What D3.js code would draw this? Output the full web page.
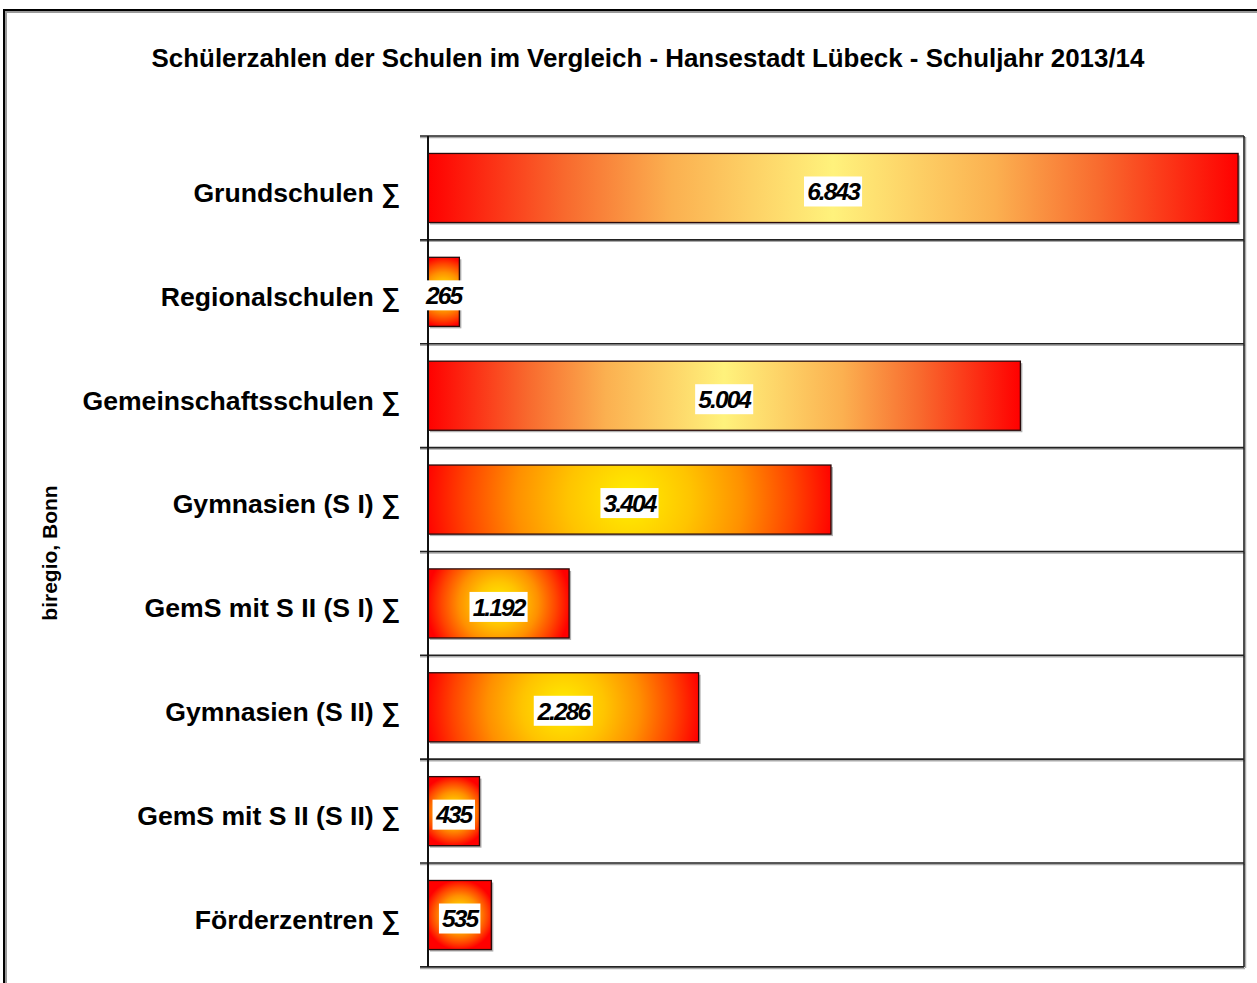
<!DOCTYPE html>
<html>
<head>
<meta charset="utf-8">
<script src="https://cdn.jsdelivr.net/npm/d3@7"></script>
<style>
  body { margin: 0; background: #fff; }
  svg { display: block; font-family: "Liberation Sans", Arial, sans-serif; }
</style>
</head>
<body>
<div class="main"></div>
<script>
// school types, top to bottom
const categories = [
    "Grundschulen ∑",
    "Regionalschulen ∑",
    "Gemeinschaftsschulen ∑",
    "Gymnasien (S I) ∑",
    "GemS mit S II (S I) ∑",
    "Gymnasien (S II) ∑",
    "GemS mit S II (S II) ∑",
    "Förderzentren ∑"
];
const pupils = [6843, 265, 5004, 3404, 1192, 2286, 435, 535];
// which fill each bar uses (excel had two kinds)
const fillKind = ["linear", "radial", "linear", "radial", "radial", "radial", "radial", "radial"];

const title = "Schülerzahlen der Schulen im Vergleich - Hansestadt Lübeck - Schuljahr 2013/14";
const sideNote = "biregio, Bonn";

let width = 1257;
let height = 983;
let plot = { left: 428, right: 1244, top: 136, bottom: 967 };

const de = d3.formatLocale({ decimal: ",", thousands: ".", grouping: [3], currency: ["", " €"] });
const fmt = de.format(",d");

let svg = d3.select(".main").append("svg")
    .attr("width", width)
    .attr("height", height);

let defs = svg.append("defs");

// horizontal red - pale yellow - red
let lin = defs.append("linearGradient").attr("id", "fillLinear")
    .attr("x1", "0%").attr("x2", "100%").attr("y1", "0%").attr("y2", "0%");
[[0, "#ff0000"], [0.17, "#f86a2e"], [0.3, "#fbb050"], [0.5, "#fff27c"],
 [0.7, "#fbb050"], [0.83, "#f86a2e"], [1, "#ff0000"]].forEach(s => {
    lin.append("stop").attr("offset", s[0]).attr("stop-color", s[1]);
});

// outer frame (runs off the picture right and bottom)
svg.append("rect")
    .attr("x", 6).attr("y", 12).attr("width", 1400).attr("height", 1200)
    .attr("fill", "none").attr("stroke", "#999").attr("stroke-width", 2);
svg.append("rect")
    .attr("x", 4).attr("y", 10).attr("width", 1400).attr("height", 1200)
    .attr("fill", "none").attr("stroke", "#000").attr("stroke-width", 2);

svg.append("text")
    .attr("x", 648).attr("y", 67)
    .attr("text-anchor", "middle")
    .attr("font-size", 25.9).attr("font-weight", "bold")
    .text(title);

svg.append("text")
    .attr("transform", "translate(57,553) rotate(-90)")
    .attr("text-anchor", "middle")
    .attr("font-size", 21).attr("font-weight", "bold")
    .text(sideNote);

let x = d3.scaleLinear().domain([0, 6893]).range([plot.left, plot.right]);
let y = d3.scaleBand().domain(categories).range([plot.top, plot.bottom]).paddingInner(0.335).paddingOuter(0.168);

let step = y.step();
let boundaries = d3.range(categories.length + 1).map(i => plot.top + i * step);

// plot frame + separators (with a light shadow)
let g = svg.append("g");
boundaries.forEach(b => {
    g.append("line").attr("x1", 420).attr("x2", plot.right + 1)
        .attr("y1", b + 1.5).attr("y2", b + 1.5).attr("stroke", "#aaa").attr("stroke-width", 1.5);
    g.append("line").attr("x1", 420).attr("x2", plot.right)
        .attr("y1", b).attr("y2", b).attr("stroke", "#222").attr("stroke-width", 1.6);
});
g.append("line").attr("x1", plot.right + 1.5).attr("x2", plot.right + 1.5)
    .attr("y1", plot.top + 1).attr("y2", plot.bottom + 1).attr("stroke", "#aaa").attr("stroke-width", 1.5);
g.append("line").attr("x1", plot.right).attr("x2", plot.right)
    .attr("y1", plot.top).attr("y2", plot.bottom).attr("stroke", "#222").attr("stroke-width", 1.6);

let rows = categories.map((c, i) => ({ name: c, value: pupils[i], kind: fillKind[i], id: "rad" + i }));

// radial fills: one circle per bar, sized on the bar's long side
rows.filter(d => d.kind === "radial").forEach(d => {
    let w = x(d.value) - x(0), h = y.bandwidth();
    let rg = defs.append("radialGradient").attr("id", d.id)
        .attr("gradientUnits", "userSpaceOnUse")
        .attr("cx", x(0) + w / 2).attr("cy", y(d.name) + h / 2)
        .attr("r", Math.max(w, h) / 2 * 1.02);
    [[0, "#fff000"], [0.3, "#ffc400"], [0.55, "#ff9000"], [0.8, "#ff4400"], [1, "#ff0000"]].forEach(s => {
        rg.append("stop").attr("offset", s[0]).attr("stop-color", s[1]);
    });
});

// bar shadows
g.selectAll(".bar-shadow")
    .data(rows).enter().append("rect")
    .attr("class", "bar-shadow")
    .attr("x", x(0) + 2).attr("y", d => y(d.name) + 2)
    .attr("width", d => x(d.value) - x(0)).attr("height", y.bandwidth())
    .attr("fill", "#b0b0b0");

g.selectAll(".bar")
    .data(rows).enter().append("rect")
    .attr("class", "bar")
    .attr("x", x(0)).attr("y", d => y(d.name))
    .attr("width", d => x(d.value) - x(0)).attr("height", y.bandwidth())
    .attr("fill", d => d.kind === "linear" ? "url(#fillLinear)" : `url(#${d.id})`)
    .attr("stroke", "#2a0a0a").attr("stroke-width", 1.3);

// axis line
g.append("line").attr("x1", plot.left).attr("x2", plot.left)
    .attr("y1", plot.top).attr("y2", plot.bottom).attr("stroke", "#111").attr("stroke-width", 2);

// category labels (sit a little below the band centre in the original)
svg.selectAll(".cat")
    .data(rows).enter().append("text")
    .attr("class", "cat")
    .attr("x", 400).attr("y", d => y(d.name) + y.bandwidth() / 2 + 4.5)
    .attr("dy", "0.35em")
    .attr("text-anchor", "end")
    .attr("font-size", 26.6).attr("font-weight", "bold")
    .text(d => d.name);

// value labels with white box
let vl = svg.selectAll(".val")
    .data(rows).enter().append("g").attr("class", "val");

vl.each(function (d) {
    let cx = (x(0) + x(d.value)) / 2;
    let cy = y(d.name) + y.bandwidth() / 2 + 3.5;
    let box = d3.select(this).append("rect").attr("fill", "#fff");
    let t = d3.select(this).append("text")
        .attr("x", cx).attr("y", cy).attr("dy", "0.36em")
        .attr("text-anchor", "middle")
        .attr("font-size", 24.5).attr("font-weight", "bold").attr("font-style", "italic")
        .attr("letter-spacing", -1.9)
        .text(fmt(d.value));
    let bb = t.node().getBBox();
    box.attr("x", cx - bb.width / 2 - 2).attr("y", cy - 15)
        .attr("width", bb.width + 4).attr("height", 30);
});
</script>
</body>
</html>
